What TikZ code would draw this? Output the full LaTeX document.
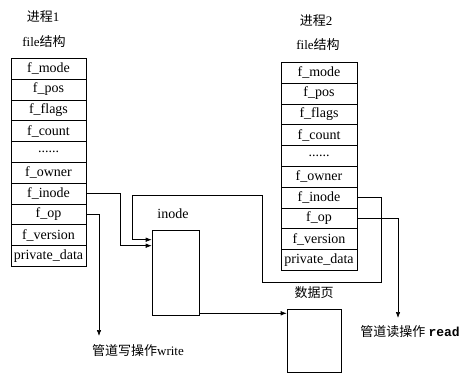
\documentclass[tikz,border=0pt]{standalone}
\usepackage{fontspec}
\setmainfont{Liberation Serif}
\setmonofont{Liberation Mono}
\newfontfamily\cjk{Noto Sans CJK SC}
\usetikzlibrary{arrows.meta}
\newcommand\moredots{......}

\begin{document}
\begin{tikzpicture}[x=1pt, y=-1pt, line width=0.6pt,
    field/.style = {draw, minimum height=20.8pt, inner sep=0pt, anchor=north, font=\fontsize{14}{16}\selectfont},
    caption/.style = {inner sep=0pt, font=\fontsize{13}{15}\selectfont},
    arr/.style = {-{Latex[length=6pt,width=4.5pt]}}]
    \useasboundingbox (0,0) rectangle (470,374);

    % the two file tables
    \foreach \tab/\xc/\yt/\w in {L/48.5/58/75, R/319/62/76} {
        \foreach \name [count=\i] in {f\_mode, f\_pos, f\_flags, f\_count, \moredots, f\_owner, f\_inode, f\_op, f\_version, private\_data} {
            \node[field, minimum width=\w pt] (\tab\i) at (\xc, {\yt+20.8*(\i-1)}) {\name};
        }
    }

    \node[caption] (procL) at (43,17) {{\cjk 进程}1};
    \node[caption] (fileL) at (44,42) {file{\cjk 结构}};
    \node[caption] (procR) at (316,21) {{\cjk 进程}2};
    \node[caption] (fileR) at (318,45) {file{\cjk 结构}};

    % inode and data page
    \node[draw, minimum width=47pt, minimum height=85pt, inner sep=0pt] (inode) at (175.5,272.5) {};
    \node[caption, font=\fontsize{14}{16}\selectfont] (inodetxt) at (173,214) {inode};
    \node[draw, minimum width=54pt, minimum height=63pt, inner sep=0pt] (data) at (314,340.5) {};
    \node[caption] (datatxt) at (314,293) {\cjk 数据页};

    \node[caption] (wlabel) at (138,351) {{\cjk 管道写操作}write};
    \node[caption] (rlabel) at (410,332) {{\cjk 管道读操作} \textbf{\ttfamily read}};
    \coordinate (wtip) at (99,336);
    \coordinate (rtip) at (398,318);

    % connectors
    \draw[arr] (L7.east) -- ++(34,0) |- ([yshift=-16pt]inode.north west);
    \draw[arr] (R7.east) -| (381,282) -| (262,195) -- (132,195) |- ([yshift=-10pt]inode.north west);
    \draw[arr] (L8.east) -| (wtip);
    \draw[arr] (R8.east) -| (rtip);
    \draw[arr] ([yshift=2pt]inode.south east) -- ([yshift=2pt]inode.south east -| data.west);
\end{tikzpicture}
\end{document}
